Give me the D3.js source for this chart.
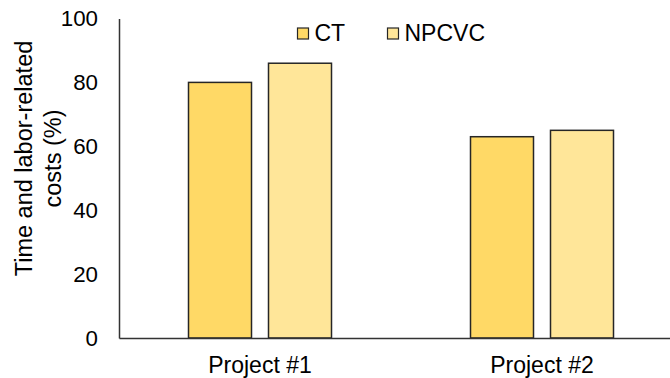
<!DOCTYPE html>
<html>
<head>
<meta charset="utf-8">
<script src="https://cdn.jsdelivr.net/npm/d3@7"></script>
<style>
  body { margin: 0; background: #fff; }
  text { font-family: "Liberation Sans", Arial, sans-serif; fill: #000; }
</style>
</head>
<body>
<div id="chart"></div>
<script>
// data
const projects = ["Project #1", "Project #2"];
const series = ["CT", "NPCVC"];
const ctValues = [80, 63];
const npcvcValues = [86, 65];
const yTicks = [0, 20, 40, 60, 80, 100];
const colors = ["#FFD966", "#FFE699"];

function init() {
    let w = 670;
    let h = 378;

    let svg = d3.select("#chart")
        .append("svg")
        .attr("width", w)
        .attr("height", h);

    const valuesBySeries = [ctValues, npcvcValues];
    const rows = projects.map((p, i) => ({
        project: p,
        values: series.map((s, j) => ({ key: s, value: valuesBySeries[j][i], color: colors[j] }))
    }));

    // scales
    let x0 = d3.scaleBand().domain(projects).range([119, 683]).padding(0);
    let x1 = d3.scaleBand().domain(series).range([0, 143]).paddingInner(0.2125).paddingOuter(0);
    let y = d3.scaleLinear().domain([0, 100]).range([338, 18.5]);

    // y axis (line + labels, no tick marks)
    let yAxis = svg.append("g")
        .attr("transform", "translate(119,0)")
        .call(d3.axisLeft(y).tickValues(yTicks).tickSize(0).tickPadding(21));
    yAxis.select(".domain").attr("stroke", "#333").attr("stroke-width", 1.5);
    yAxis.selectAll("text")
        .style("font-size", "22.3px")
        .style("font-family", "Liberation Sans, Arial, sans-serif")
        .attr("fill", "#000");

    // bars
    let groups = svg.selectAll(".group")
        .data(rows)
        .enter()
        .append("g")
        .attr("class", "group")
        .attr("transform", d => "translate(" + (x0(d.project) + x0.bandwidth() / 2 - 71.5) + ",0)");

    groups.selectAll("rect")
        .data(d => d.values)
        .enter()
        .append("rect")
        .attr("x", d => x1(d.key))
        .attr("y", d => y(d.value))
        .attr("width", x1.bandwidth())
        .attr("height", d => y(0) - y(d.value))
        .attr("fill", d => d.color)
        .attr("stroke", "#262626")
        .attr("stroke-width", 1.5);

    // x axis
    let xAxis = svg.append("g")
        .attr("transform", "translate(0,338)")
        .call(d3.axisBottom(x0).tickSize(0).tickPadding(19));
    xAxis.select(".domain").attr("stroke", "#333").attr("stroke-width", 1.5);
    xAxis.selectAll("text")
        .style("font-size", "23px")
        .style("font-family", "Liberation Sans, Arial, sans-serif")
        .attr("fill", "#000");

    // y axis title
    let title = svg.append("text")
        .attr("transform", "translate(0,158.5) rotate(-90)")
        .attr("text-anchor", "middle")
        .style("font-size", "23.5px");
    title.append("tspan").attr("x", 0).attr("y", 24).attr("dominant-baseline", "central").text("Time and labor-related");
    title.append("tspan").attr("x", 0).attr("y", 53).attr("dominant-baseline", "central").text("costs (%)");

    // legend
    let legend = svg.selectAll(".legend")
        .data(series)
        .enter()
        .append("g")
        .attr("class", "legend")
        .attr("transform", (d, i) => "translate(" + (297.5 + i * 90) + ",28)");
    legend.append("rect")
        .attr("width", 11)
        .attr("height", 11)
        .attr("fill", (d, i) => colors[i])
        .attr("stroke", "#262626")
        .attr("stroke-width", 1.2);
    legend.append("text")
        .attr("x", 17)
        .attr("y", 13)
        .style("font-size", "23px")
        .text(d => d);
}

window.onload = init;
</script>
</body>
</html>
